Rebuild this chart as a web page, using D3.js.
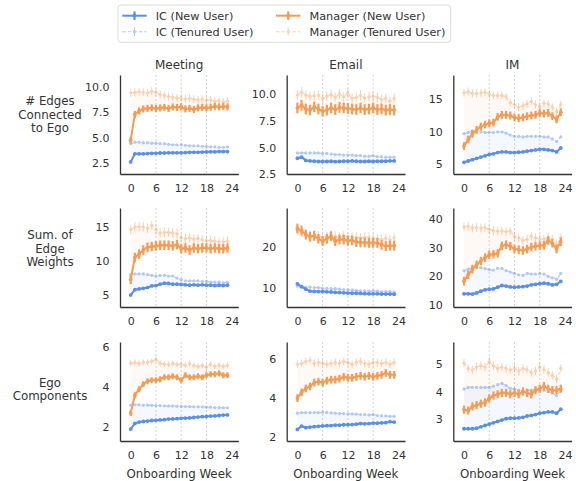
<!DOCTYPE html>
<html><head><meta charset="utf-8">
<script src="https://cdn.jsdelivr.net/npm/d3@7"></script>
<style>
body{margin:0;background:#fff}
svg{display:block}
text{font-family:"DejaVu Sans",sans-serif;fill:#333}
</style>
</head><body>
<svg id="chart" width="576" height="481"></svg>
<script>
// ---------- data ----------
const weeks = [0,1,2,3,4,5,6,7,8,9,10,11,12,13,14,15,16,17,18,19,20,21,22,23];
const columns = ["Meeting", "Email", "IM"];
const rowLabels = [["# Edges","Connected","to Ego"],["Sum. of","Edge","Weights"],["Ego","Components"]];
const seriesNames = ["IC (New User)", "Manager (New User)", "IC (Tenured User)", "Manager (Tenured User)"];
const xTicks = [0,6,12,18,24];
const gridWeeks = [6,12,18];

// Row 1: # Edges Connected to Ego
const meetEdgesIcNew  = [2.6,3.4,3.4,3.4,3.42,3.45,3.45,3.48,3.48,3.5,3.5,3.5,3.5,3.52,3.55,3.55,3.55,3.57,3.58,3.6,3.6,3.62,3.62,3.62];
const meetEdgesIcTen  = [4.4,4.55,4.55,4.5,4.5,4.45,4.45,4.4,4.4,4.35,4.3,4.3,4.3,4.25,4.2,4.2,4.2,4.15,4.15,4.1,4.1,4.05,4.05,4.1];
const meetEdgesMgrNew = [4.75,7.3,7.65,7.85,7.9,7.95,7.9,7.95,8.0,7.9,8.05,8.0,8.05,7.85,7.9,7.8,7.95,8.0,7.95,8.0,8.1,8.05,8.1,8.05];
const meetEdgesMgrTen = [9.45,9.5,9.55,9.5,9.45,9.6,9.5,9.3,9.2,9.1,9.0,8.95,8.95,8.85,8.9,8.8,8.75,8.8,8.7,8.75,8.6,8.65,8.55,8.6];
const meetEdgesErr    = [0.05,0.05,0.35,0.4];

const mailEdgesIcNew  = [4.0,4.1,3.8,3.75,3.72,3.7,3.7,3.7,3.72,3.68,3.7,3.72,3.72,3.75,3.72,3.7,3.7,3.72,3.7,3.72,3.72,3.72,3.75,3.75];
const mailEdgesIcTen  = [4.5,4.5,4.5,4.5,4.5,4.5,4.45,4.45,4.4,4.35,4.35,4.3,4.3,4.3,4.25,4.25,4.2,4.2,4.25,4.15,4.15,4.1,4.1,4.1];
const mailEdgesMgrNew = [8.7,8.95,8.6,8.5,8.8,8.6,8.4,8.5,8.7,8.55,8.75,8.7,8.65,8.6,8.55,8.7,8.55,8.6,8.7,8.55,8.6,8.5,8.55,8.5];
const mailEdgesMgrTen = [9.9,10.2,9.9,9.8,9.85,9.9,9.6,9.8,9.95,9.7,10.0,9.75,10.1,9.6,9.7,9.9,9.65,9.75,9.8,9.7,9.5,9.6,9.35,9.6];
const mailEdgesErr    = [0.06,0.06,0.5,0.45];

const imEdgesIcNew  = [5.3,5.5,5.7,5.9,6.1,6.3,6.5,6.6,6.8,6.9,6.9,6.8,6.8,6.85,6.9,7.0,7.1,7.2,7.3,7.3,7.2,7.1,6.9,7.5];
const imEdgesIcTen  = [9.7,9.9,10.1,10.0,10.0,9.9,9.9,9.9,10.0,10.0,9.8,9.5,9.3,9.3,9.2,9.3,9.3,9.3,9.3,9.2,9.2,8.9,8.5,9.2];
const imEdgesMgrNew = [7.8,8.8,9.7,10.3,10.8,11.1,11.3,11.4,12.3,12.6,12.6,12.5,12.2,12.1,12.2,12.4,12.5,12.6,12.9,12.8,12.9,12.4,11.9,13.0];
const imEdgesMgrTen = [16.0,16.2,15.9,15.9,16.0,16.1,15.8,15.6,15.6,15.6,15.4,14.5,14.2,13.8,14.0,14.3,14.7,14.2,13.9,14.4,14.3,13.8,13.1,14.2];
const imEdgesErr    = [0.12,0.12,0.6,0.6];

// Row 2: Sum of Edge Weights
const meetSumIcNew  = [5.0,5.8,5.9,6.0,6.1,6.35,6.4,6.6,6.75,6.7,6.6,6.6,6.55,6.5,6.45,6.5,6.45,6.5,6.45,6.45,6.4,6.45,6.4,6.45];
const meetSumIcTen  = [8.0,8.1,8.1,8.1,8.0,7.9,7.8,7.9,7.9,7.8,7.8,7.5,7.3,7.1,7.1,7.1,7.1,7.0,7.0,6.9,6.9,6.9,6.8,6.9];
const meetSumMgrNew = [7.3,10.5,11.0,11.6,12.0,12.1,12.2,12.3,12.3,12.3,12.2,12.4,11.8,11.9,11.6,11.9,11.8,11.9,11.9,11.8,11.9,11.8,11.8,11.9];
const meetSumMgrTen = [14.6,15.0,15.0,15.0,14.8,15.2,14.6,14.1,14.2,14.2,14.1,14.0,13.4,13.3,13.4,13.2,13.3,13.1,13.0,13.0,12.9,12.8,12.8,12.9];
const meetSumErr    = [0.12,0.12,0.7,0.7];

const mailSumIcNew  = [11.0,10.3,9.7,9.2,9.15,9.1,9.1,9.05,9.0,8.9,8.85,8.8,8.75,8.7,8.7,8.65,8.6,8.55,8.55,8.55,8.5,8.5,8.5,8.45];
const mailSumIcTen  = [10.4,10.2,10.2,10.2,10.1,10.1,9.9,9.9,9.8,9.8,9.7,9.6,9.5,9.5,9.4,9.3,9.3,9.2,9.3,9.2,9.1,9.1,9.1,9.0];
const mailSumMgrNew = [24.5,24.0,23.0,22.5,22.7,22.0,21.4,22.0,22.6,21.4,21.8,21.8,21.5,21.6,21.2,21.1,21.1,21.0,21.0,21.0,20.5,20.2,20.3,20.3];
const mailSumMgrTen = [24.0,23.6,23.2,22.8,22.9,22.6,22.4,22.5,22.8,22.6,22.3,22.7,22.5,22.3,22.4,22.2,22.3,22.4,22.1,22.0,21.8,22.1,21.7,22.2];
const mailSumErr    = [0.2,0.2,1.2,1.2];

const imSumIcNew  = [13.9,13.9,13.8,14.2,14.8,15.3,15.5,15.6,16.2,16.8,16.6,16.3,16.2,16.3,16.4,16.6,17.0,17.2,17.4,17.6,17.4,17.0,17.2,18.2];
const imSumIcTen  = [21.9,22.5,23.0,23.2,23.0,22.7,22.3,22.2,22.8,22.8,22.0,21.5,21.0,20.5,20.3,21.0,20.8,20.8,21.0,20.8,20.0,19.5,19.0,21.0];
const imSumMgrNew = [18.3,20.5,22.5,24.0,25.3,26.5,27.5,27.7,28.0,30.6,31.0,30.5,29.5,29.3,29.0,29.5,30.2,30.5,30.7,30.8,32.5,31.5,29.5,32.0];
const imSumMgrTen = [37.2,37.5,36.8,37.0,36.8,37.0,36.4,36.0,35.8,35.8,35.6,35.8,33.8,33.5,32.5,33.0,34.0,33.5,33.0,33.0,33.5,33.0,31.0,33.5];
const imSumErr    = [0.4,0.4,1.5,1.5];

// Row 3: Ego Components
const meetCompIcNew  = [1.9,2.18,2.25,2.28,2.3,2.33,2.34,2.36,2.37,2.4,2.41,2.42,2.44,2.45,2.46,2.48,2.5,2.52,2.53,2.55,2.56,2.58,2.6,2.61];
const meetCompIcTen  = [3.1,3.12,3.12,3.1,3.1,3.1,3.08,3.08,3.07,3.06,3.06,3.05,3.04,3.03,3.03,3.02,3.02,3.02,3.0,3.0,2.98,2.98,2.97,2.97];
const meetCompMgrNew = [2.7,3.6,3.9,4.15,4.3,4.35,4.35,4.4,4.5,4.5,4.55,4.5,4.35,4.6,4.5,4.5,4.55,4.5,4.6,4.65,4.65,4.7,4.6,4.6];
const meetCompMgrTen = [5.2,5.25,5.2,5.25,5.25,5.3,5.4,5.2,5.15,5.15,5.2,5.15,5.15,5.1,5.2,5.1,5.05,5.1,5.0,5.15,5.05,5.1,5.05,5.1];
const meetCompErr    = [0.03,0.03,0.15,0.15];

const mailCompIcNew  = [2.38,2.55,2.47,2.5,2.52,2.54,2.56,2.57,2.58,2.6,2.6,2.62,2.62,2.63,2.65,2.68,2.67,2.68,2.7,2.7,2.72,2.73,2.78,2.76];
const mailCompIcTen  = [3.22,3.25,3.25,3.25,3.26,3.25,3.27,3.26,3.24,3.22,3.2,3.2,3.19,3.18,3.17,3.15,3.15,3.13,3.15,3.1,3.08,3.08,3.06,3.06];
const mailCompMgrNew = [4.0,4.3,4.5,4.6,4.8,4.85,4.8,4.9,4.95,4.95,5.0,5.1,5.05,5.05,5.1,5.15,5.1,5.15,5.1,5.15,5.2,5.3,5.2,5.2];
const mailCompMgrTen = [5.75,5.8,5.9,5.95,5.8,5.85,5.8,5.75,5.8,5.85,5.8,5.9,5.85,5.75,5.85,5.9,5.8,5.75,5.85,5.85,5.8,5.85,5.75,5.85];
const mailCompErr    = [0.03,0.03,0.2,0.2];

const imCompIcNew  = [2.63,2.63,2.63,2.65,2.7,2.75,2.8,2.85,2.9,2.95,3.0,3.02,3.02,3.03,3.05,3.1,3.12,3.15,3.2,3.22,3.25,3.25,3.2,3.35];
const imCompIcTen  = [4.09,4.15,4.15,4.15,4.15,4.15,4.15,4.2,4.25,4.3,4.22,4.12,4.1,4.05,4.0,4.05,4.05,4.1,4.05,4.05,4.0,3.95,3.85,4.05];
const imCompMgrNew = [3.33,3.3,3.45,3.5,3.55,3.6,3.75,3.85,3.9,3.95,3.95,3.9,3.95,3.9,4.0,3.95,3.9,4.05,4.1,4.2,4.1,4.05,4.05,4.1];
const imCompMgrTen = [5.04,4.85,4.8,4.9,4.95,4.9,5.1,4.95,4.85,4.9,4.85,4.8,4.85,4.75,4.85,4.8,4.7,4.75,4.9,4.8,4.7,4.6,4.45,4.85];
const imCompErr    = [0.03,0.05,0.15,0.15];

// y tick labels per panel
const yTicks = [
  [[2.5,5,7.5,10],[2.5,5,7.5,10],[5,10,15]],
  [[5,10,15],[10,20],[10,20,30,40]],
  [[2,4,6],[2,4,6],[3,4,5]]
];

// ---------- layout ----------
const colLeft = [120, 286.7, 453.3];
const axW = 118.3;
const rowTop = [75, 208, 342];
const axH = 99;
const xDomain = [-2.54, 25.57];
const yDomains = [
  [[1.4,11.21],[2.53,11.78],[3.5,18.74]],
  [[3.26,17.75],[5.34,29.5],[9.3,43.8]],
  [[1.3,6.27],[1.78,6.9],[2.18,5.82]]
];
const yFormats = [[".1f",".1f","d"],["d","d","d"],["d","d","d"]];

const panelData = [
  [[meetEdgesIcNew,meetEdgesIcTen,meetEdgesMgrNew,meetEdgesMgrTen,meetEdgesErr],
   [mailEdgesIcNew,mailEdgesIcTen,mailEdgesMgrNew,mailEdgesMgrTen,mailEdgesErr],
   [imEdgesIcNew,imEdgesIcTen,imEdgesMgrNew,imEdgesMgrTen,imEdgesErr]],
  [[meetSumIcNew,meetSumIcTen,meetSumMgrNew,meetSumMgrTen,meetSumErr],
   [mailSumIcNew,mailSumIcTen,mailSumMgrNew,mailSumMgrTen,mailSumErr],
   [imSumIcNew,imSumIcTen,imSumMgrNew,imSumMgrTen,imSumErr]],
  [[meetCompIcNew,meetCompIcTen,meetCompMgrNew,meetCompMgrTen,meetCompErr],
   [mailCompIcNew,mailCompIcTen,mailCompMgrNew,mailCompMgrTen,mailCompErr],
   [imCompIcNew,imCompIcTen,imCompMgrNew,imCompMgrTen,imCompErr]]
];

const BLUE = "#5b8ee8";
const ORANGE = "#f49c55";
const AXIS = "#333";

const svg = d3.select("#chart");

function drawSeries(g, x, y, vals, err, color, tenured) {
  const pts = weeks.map((w,i)=>({w, v: vals[i]}));
  const op = tenured ? 0.45 : 1;
  const s = g.append("g").attr("opacity", op);
  s.selectAll("line.err").data(pts).enter().append("line")
    .attr("x1", d=>x(d.w)).attr("x2", d=>x(d.w))
    .attr("y1", d=>y(d.v-err)).attr("y2", d=>y(d.v+err))
    .attr("stroke", color).attr("stroke-width", tenured ? 1 : 2.2);
  s.append("path").datum(pts)
    .attr("d", d3.line().x(d=>x(d.w)).y(d=>y(d.v)))
    .attr("fill","none").attr("stroke", color)
    .attr("stroke-width", tenured ? 1.1 : 2)
    .attr("stroke-dasharray", tenured ? "3.5,2" : null);
  s.selectAll("circle").data(pts).enter().append("circle")
    .attr("cx", d=>x(d.w)).attr("cy", d=>y(d.v))
    .attr("r", tenured ? 1.6 : 1.9).attr("fill", color);
}

for (let r=0; r<3; r++) {
  for (let c=0; c<3; c++) {
    const g = svg.append("g").attr("transform", `translate(${colLeft[c]},${rowTop[r]})`);
    const x = d3.scaleLinear().domain(xDomain).range([0, axW]);
    const y = d3.scaleLinear().domain(yDomains[r][c]).range([axH, 0]);
    const [icNew, icTen, mgrNew, mgrTen, err] = panelData[r][c];

    g.selectAll("line.grid").data(gridWeeks).enter().append("line")
      .attr("x1", d=>x(d)).attr("x2", d=>x(d)).attr("y1",0).attr("y2",axH)
      .attr("stroke","#c8c8c8").attr("stroke-width",0.8).attr("stroke-dasharray","2,2");

    const area = (a,b) => d3.area().x((d,i)=>x(weeks[i])).y0((d,i)=>y(a[i])).y1((d,i)=>y(b[i]))(weeks);
    g.append("path").attr("d", area(icNew, icTen)).attr("fill", BLUE).attr("opacity", 0.06);
    g.append("path").attr("d", area(mgrNew, mgrTen)).attr("fill", ORANGE).attr("opacity", 0.06);

    drawSeries(g, x, y, icTen, err[1], BLUE, true);
    drawSeries(g, x, y, icNew, err[0], BLUE, false);
    drawSeries(g, x, y, mgrTen, err[3], ORANGE, true);
    drawSeries(g, x, y, mgrNew, err[2], ORANGE, false);

    const ya = g.append("g").call(d3.axisLeft(y).tickValues(yTicks[r][c]).tickSize(0).tickSizeOuter(0).tickPadding(10.5).tickFormat(d3.format(yFormats[r][c])));
    const xa = g.append("g").attr("transform", `translate(0,${axH})`)
      .call(d3.axisBottom(x).tickValues(xTicks).tickSize(0).tickSizeOuter(0).tickPadding(10.5));
    [ya, xa].forEach(a => {
      a.select(".domain").attr("stroke", AXIS).attr("stroke-width", 1.3);
      a.selectAll("text").attr("font-size", 11).attr("fill", "#333").attr("font-family", "DejaVu Sans");
    });

    if (r === 0) {
      g.append("text").attr("x", axW/2).attr("y", -6).attr("text-anchor","middle")
        .attr("font-size", 12).text(columns[c]);
    }
    if (r === 2) {
      g.append("text").attr("x", axW/2).attr("y", axH + 36.5).attr("text-anchor","middle")
        .attr("font-size", 11.8).text("Onboarding Week");
    }
  }
}

const rowLabelCenters = [114.3, 248.5, 389.3];
rowLabels.forEach((lines, r) => {
  const n = lines.length;
  lines.forEach((t, i) => {
    svg.append("text").attr("x", 50).attr("text-anchor","middle")
      .attr("y", rowLabelCenters[r] + (i - (n-1)/2) * 13.6 + 4.2)
      .attr("font-size", 11.8).text(t);
  });
});

const lg = svg.append("g");
lg.append("rect").attr("x",118).attr("y",5).attr("width",332.7).attr("height",37.3)
  .attr("rx",3).attr("fill","#fff").attr("stroke","#d8d8d8").attr("stroke-width",0.9);
const legendItems = [
  {name: seriesNames[0], color: BLUE, ten: false, x: 122.3, y: 15.7},
  {name: seriesNames[2], color: BLUE, ten: true, x: 122.3, y: 31.7},
  {name: seriesNames[1], color: ORANGE, ten: false, x: 276, y: 15.7},
  {name: seriesNames[3], color: ORANGE, ten: true, x: 276, y: 31.7}
];
legendItems.forEach(it => {
  const gg = lg.append("g").attr("opacity", it.ten ? 0.45 : 1);
  gg.append("line").attr("x1", it.x).attr("x2", it.x+24.4).attr("y1", it.y).attr("y2", it.y)
    .attr("stroke", it.color).attr("stroke-width", it.ten ? 1.1 : 2)
    .attr("stroke-dasharray", it.ten ? "3.5,2" : null);
  gg.append("line").attr("x1", it.x+12.2).attr("x2", it.x+12.2).attr("y1", it.y-4.3).attr("y2", it.y+4.3)
    .attr("stroke", it.color).attr("stroke-width", it.ten ? 1 : 2.2);
  gg.append("circle").attr("cx", it.x+12.2).attr("cy", it.y).attr("r", it.ten ? 1.6 : 1.9).attr("fill", it.color);
  lg.append("text").attr("x", it.x + 33.4).attr("y", it.y + 4).attr("font-size", 11.3).text(it.name);
});
</script>
</body></html>
